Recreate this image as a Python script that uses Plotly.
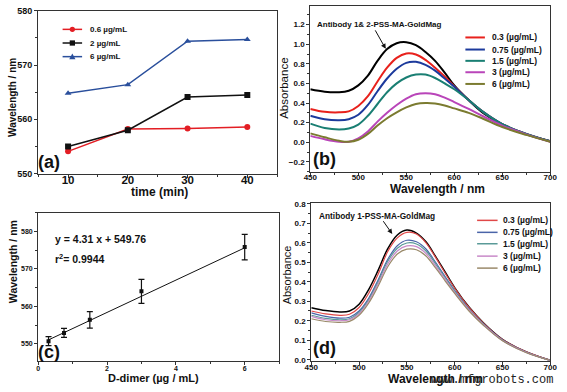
import plotly.graph_objects as go

W, H = 567, 392
def px(x): return x / W
def py(y): return 1 - y / H

FONT = "Liberation Sans, Arial, sans-serif"

# ---------------- panel (a) data ----------------
time_min = [10, 20, 30, 40]
a_names = ["0.6 µg/mL", "2 µg/mL", "6 µg/mL"]
a_red = [554.1, 558.2, 558.3, 558.6]
a_black = [555.0, 558.0, 564.1, 564.5]
a_blue = [564.8, 566.4, 574.4, 574.7]
a_colors = ["#e31e24", "#111111", "#2a4f9c"]
a_symbols = ["circle", "square", "triangle-up"]

# ---------------- panel (b) data ----------------
wl = [450, 465, 480, 490, 500, 510, 520, 530, 540, 550, 560, 570, 580, 590, 600, 615, 630, 650, 675, 700]
b_black = [0.54, 0.515, 0.51, 0.525, 0.58, 0.68, 0.83, 0.95, 1.01, 1.02, 0.99, 0.92, 0.83, 0.71, 0.58, 0.43, 0.30, 0.18, 0.08, 0.01]
b_red = [0.34, 0.31, 0.305, 0.315, 0.37, 0.47, 0.62, 0.76, 0.86, 0.905, 0.895, 0.84, 0.76, 0.67, 0.57, 0.43, 0.31, 0.185, 0.085, 0.01]
b_blue = [0.27, 0.235, 0.225, 0.235, 0.28, 0.38, 0.52, 0.65, 0.75, 0.81, 0.82, 0.79, 0.73, 0.65, 0.565, 0.43, 0.31, 0.185, 0.085, 0.01]
b_teal = [0.19, 0.145, 0.13, 0.14, 0.18, 0.27, 0.39, 0.51, 0.60, 0.66, 0.69, 0.69, 0.655, 0.60, 0.54, 0.43, 0.31, 0.185, 0.085, 0.01]
b_magenta = [0.065, 0.03, 0.005, 0.005, 0.04, 0.11, 0.21, 0.30, 0.38, 0.445, 0.49, 0.50, 0.49, 0.455, 0.41, 0.34, 0.265, 0.17, 0.08, 0.005]
b_olive = [0.09, 0.05, 0.015, 0.005, 0.025, 0.085, 0.17, 0.245, 0.305, 0.355, 0.39, 0.40, 0.395, 0.375, 0.345, 0.30, 0.24, 0.155, 0.075, 0.005]
conc_names = ["0.3 (µg/mL)", "0.75 (µg/mL)", "1.5 (µg/mL)", "3 (µg/mL)", "6 (µg/mL)"]
b_colors = ["#e8211c", "#1c3a9c", "#1a7f73", "#b945b9", "#7b7b30"]

# ---------------- panel (c) data ----------------
dimer = [0.3, 0.75, 1.5, 3, 6]
c_wave = [550.7, 552.9, 556.4, 564.0, 575.8]
c_err = [1.2, 1.2, 2.2, 3.2, 3.4]
fit_x = [0.3, 6]
fit_y = [551.05, 575.6]

# ---------------- panel (d) data ----------------
d_black = [0.267, 0.252, 0.245, 0.25, 0.285, 0.36, 0.46, 0.57, 0.64, 0.665, 0.65, 0.605, 0.53, 0.45, 0.37, 0.27, 0.19, 0.105, 0.04, -0.003]
d_red = [0.25, 0.235, 0.228, 0.233, 0.268, 0.34, 0.44, 0.555, 0.625, 0.653, 0.645, 0.6, 0.525, 0.445, 0.368, 0.268, 0.188, 0.104, 0.04, -0.003]
d_blue = [0.24, 0.222, 0.213, 0.218, 0.25, 0.315, 0.41, 0.515, 0.585, 0.613, 0.605, 0.568, 0.5, 0.427, 0.355, 0.26, 0.183, 0.101, 0.038, -0.004]
d_teal = [0.228, 0.212, 0.205, 0.21, 0.242, 0.307, 0.40, 0.505, 0.572, 0.599, 0.594, 0.558, 0.492, 0.421, 0.352, 0.258, 0.182, 0.1, 0.038, -0.004]
d_magenta = [0.222, 0.205, 0.2, 0.205, 0.236, 0.30, 0.39, 0.492, 0.558, 0.584, 0.58, 0.545, 0.482, 0.413, 0.346, 0.255, 0.18, 0.099, 0.037, -0.004]
d_olive = [0.21, 0.196, 0.192, 0.197, 0.228, 0.29, 0.378, 0.477, 0.542, 0.567, 0.564, 0.532, 0.471, 0.405, 0.34, 0.25, 0.177, 0.097, 0.036, -0.004]
d_colors = ["#e04848", "#4a64a8", "#5a9a98", "#c88ac8", "#9a8a6a"]

fig = go.Figure()

# (a)
for name, vals, col, sym in zip(a_names, [a_red, a_black, a_blue], a_colors, a_symbols):
    fig.add_trace(go.Scatter(x=time_min, y=vals, mode="lines+markers", name=name,
                             line=dict(color=col, width=1.5),
                             marker=dict(symbol=sym, size=6, color=col),
                             xaxis="x", yaxis="y", showlegend=False))

# (b)
fig.add_trace(go.Scatter(x=wl, y=b_black, mode="lines", line=dict(color="#000", width=2, shape="spline"),
                         xaxis="x2", yaxis="y2", showlegend=False))
for name, vals, col in zip(conc_names, [b_red, b_blue, b_teal, b_magenta, b_olive], b_colors):
    fig.add_trace(go.Scatter(x=wl, y=vals, mode="lines", name=name,
                             line=dict(color=col, width=2, shape="spline"),
                             xaxis="x2", yaxis="y2", showlegend=False))

# (c)
fig.add_trace(go.Scatter(x=fit_x, y=fit_y, mode="lines", line=dict(color="#111", width=1),
                         xaxis="x3", yaxis="y3", showlegend=False))
fig.add_trace(go.Scatter(x=dimer, y=c_wave, mode="markers",
                         marker=dict(symbol="square", size=4, color="#111"),
                         error_y=dict(type="data", array=c_err, visible=True, color="#111", thickness=1.2, width=3),
                         xaxis="x3", yaxis="y3", showlegend=False))

# (d)
fig.add_trace(go.Scatter(x=wl, y=d_black, mode="lines", line=dict(color="#000", width=1.5, shape="spline"),
                         xaxis="x4", yaxis="y4", showlegend=False))
for name, vals, col in zip(conc_names, [d_red, d_blue, d_teal, d_magenta, d_olive], d_colors):
    fig.add_trace(go.Scatter(x=wl, y=vals, mode="lines", name=name,
                             line=dict(color=col, width=1.2, shape="spline"),
                             xaxis="x4", yaxis="y4", showlegend=False))

def ax(domain, anchor, rng, dtick, minor_dtick, size, tick0=None, fmt=None, standoff=None):
    d = dict(domain=domain, anchor=anchor, range=rng, showline=True, linecolor="#333",
             linewidth=1.2, mirror=True, ticks="outside", ticklen=3, tickcolor="#333",
             showgrid=False, zeroline=False, dtick=dtick,
             tickfont=dict(family=FONT, size=size, color="#111", weight="bold"),
             minor=dict(dtick=minor_dtick, ticks="outside", ticklen=2, tickcolor="#333"))
    if tick0 is not None:
        d["tick0"] = tick0
    if fmt:
        d["tickformat"] = fmt
    if standoff is not None:
        d["ticklabelstandoff"] = standoff
    return d

layout = dict(
    width=W, height=H, margin=dict(l=0, r=0, t=0, b=0),
    paper_bgcolor="white", plot_bgcolor="white", showlegend=False,
    xaxis=ax([px(32), px(277)], "y", [5, 45], 10, 5, 11.5, tick0=0, standoff=-7),
    yaxis=ax([py(173), py(6)], "x", [550, 580], 10, 5, 9),
    xaxis2=ax([px(311), px(557)], "y2", [450, 700], 50, 25, 8, standoff=-5),
    yaxis2=ax([py(171), py(1)], "x2", [-0.3, 1.39], 0.2, 0.1, 8, tick0=0, fmt=".1f"),
    xaxis3=ax([px(32), px(279)], "y3", [0, 7], 2, 1, 7, tick0=0, standoff=-2),
    yaxis3=ax([py(365), py(213)], "x3", [545.5, 585], 10, 5, 7, tick0=550),
    xaxis4=ax([px(312), px(557)], "y4", [450, 700], 50, 25, 8, standoff=-4),
    yaxis4=ax([py(365), py(203)], "x4", [-0.005, 0.805], 0.1, 0.05, 8, tick0=0, fmt=".1f"),
)
fig.update_layout(**layout)

ann = []
shapes = []
def text(x, y, s, size, bold=True, angle=0, xanchor="center", family=FONT, color="#111"):
    ann.append(dict(x=px(x), y=py(y), xref="paper", yref="paper", text=s, showarrow=False,
                    textangle=angle, xanchor=xanchor, yanchor="middle",
                    font=dict(family=family, size=size, color=color, weight="bold" if bold else "normal")))

# axis titles
text(5.5, 95, "Wavelength / nm", 10, angle=-90)
text(156, 192, "time (min)", 12)
text(284, 85, "Absorbance", 11.5, bold=False, angle=-90)
text(441, 189, "Wavelength / nm", 12)
text(6, 263, "Wavelength / nm", 10.5, angle=-90)
text(150.5, 382.5, "D-dimer (µg / mL)", 11)
text(287.5, 277, "Absorbance", 11, bold=False, angle=-90)
text(439, 384, "Wavelength / nm", 12)
# watermark
text(497.5, 385, "www.mfgrobots.com", 12, bold=False, family="Liberation Mono, monospace", color="#222")

# panel labels
text(43, 161, "(a)", 18)
text(326, 158, "(b)", 18)
text(43, 356, "(c)", 18)
text(326, 352, "(d)", 18)

# equation in (c)
text(47, 240, "y = 4.31 x + 549.76", 10.5, xanchor="left")
text(47, 260.5, "r<sup>2</sup>= 0.9944", 10.5, xanchor="left")

# labels with arrows in (b), (d)
text(382, 19.5, "Antibody 1& 2-PSS-MA-GoldMag", 8)
text(379.5, 217, "Antibody 1-PSS-MA-GoldMag", 8.3)
for (hx, hy, tx, ty) in [(388.3, 45, 377, 25), (395, 235, 385, 220.7)]:
    ann.append(dict(x=px(hx), y=py(hy), xref="paper", yref="paper", text="", showarrow=True,
                    ax=tx - hx, ay=ty - hy, arrowhead=2, arrowsize=1, arrowwidth=1,
                    arrowcolor="#111", standoff=0))

# legend (a)
for i, (name, col, sym) in enumerate(zip(a_names, a_colors, a_symbols)):
    yy = [25, 39, 53][i]
    shapes.append(dict(type="line", xref="paper", yref="paper", x0=px(57), x1=px(77),
                       y0=py(yy), y1=py(yy), line=dict(color=col, width=1.5)))
    r = 2.7
    if sym == "circle":
        shapes.append(dict(type="circle", xref="paper", yref="paper", x0=px(67 - r), x1=px(67 + r),
                           y0=py(yy + r), y1=py(yy - r), fillcolor=col, line=dict(color=col, width=0)))
    elif sym == "square":
        shapes.append(dict(type="rect", xref="paper", yref="paper", x0=px(67 - r), x1=px(67 + r),
                           y0=py(yy + r), y1=py(yy - r), fillcolor=col, line=dict(color=col, width=0)))
    else:
        path = "M %f %f L %f %f L %f %f Z" % (px(67 - 3.2), py(yy + 2.6), px(67 + 3.2), py(yy + 2.6), px(67), py(yy - 3.2))
        shapes.append(dict(type="path", xref="paper", yref="paper", path=path, fillcolor=col,
                           line=dict(color=col, width=0)))
    text(83, yy, name, 8, xanchor="left")

# legend (b)
for i, (name, col) in enumerate(zip(conc_names, b_colors)):
    yy = [33.3, 45.7, 57.3, 69, 81][i]
    shapes.append(dict(type="line", xref="paper", yref="paper", x0=px(470), x1=px(490),
                       y0=py(yy), y1=py(yy), line=dict(color=col, width=2)))
    text(495, yy, name, 8.5, xanchor="left")

# legend (d)
for i, (name, col) in enumerate(zip(conc_names, d_colors)):
    yy = [221, 233.3, 245, 257.7, 270][i]
    shapes.append(dict(type="line", xref="paper", yref="paper", x0=px(482), x1=px(503),
                       y0=py(yy), y1=py(yy), line=dict(color=col, width=1.5)))
    text(507, yy, name, 8.5, xanchor="left")

fig.update_layout(annotations=ann, shapes=shapes)
fig.write_html("out.html", config={"displayModeBar": False},
               post_script="document.body.style.margin='0px';document.body.style.padding='0px';")
